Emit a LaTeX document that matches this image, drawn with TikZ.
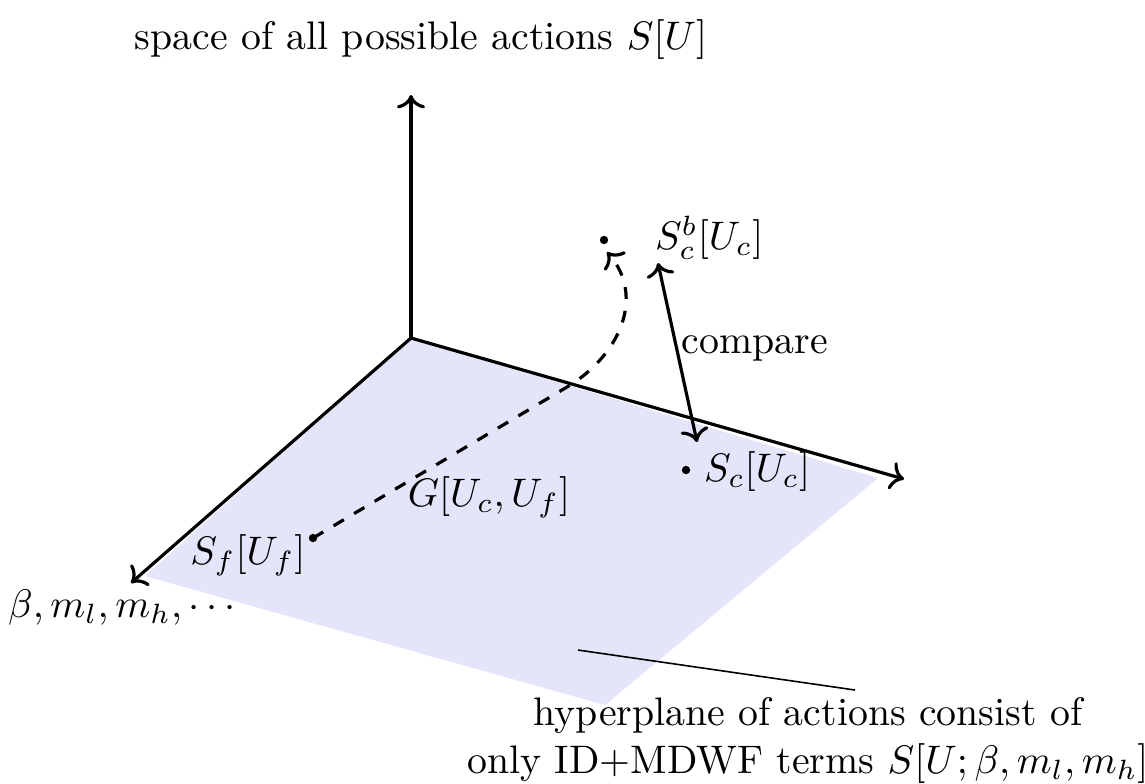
\documentclass[tikz,border=0pt]{standalone}
\usepackage{amsmath}
\usepackage{tikz}
\usetikzlibrary{arrows.meta}
\definecolor{plane-blue}{RGB}{228,228,250}

\begin{document}
\begin{tikzpicture}[x=0.2511pt, y=-0.2511pt,
    axis/.style={thick, ->},
    dot/.style={circle, fill, inner sep=0pt, minimum size=2.1pt}]
    \useasboundingbox (0,0) rectangle (1145,783);
    % hyperplane
    \fill[plane-blue] (411,338) -- (878,478) -- (605,705) -- (145,576) -- cycle;
    % axes
    \coordinate (O) at (411,338);
    \coordinate (up) at (411,95);
    \coordinate (right) at (904,479);
    \coordinate (left) at (131,583);
    \draw[axis] (O) -- (up);
    \draw[axis] (O) -- (right);
    \draw[axis] (O) -- (left);
    \node (space) at (421,40) {space of all possible actions $S[U]$};
    \node (params) at (125,608) {$\beta, m_l, m_h, \cdots$};
    % actions
    \node[dot] (sb) at (604,240) {};
    \node[dot] (sc) at (686,470) {};
    \node[dot] (sf) at (313,538) {};
    \node[anchor=west] (sb-lab) at (641,238) {$S_c^b[U_c]$};
    \node[anchor=west] (sc-lab) at (690,472) {$S_c[U_c]$};
    \node (sf-lab) at (248,555) {$S_f[U_f]$};
    % flow
    \coordinate (kink) at (567,387);
    \coordinate (sb-end) at (607,252);
    \draw[thick, dashed, ->] (sf.center) -- (kink) .. controls (619,356) and (646,297) .. (sb-end);
    \node (g-lab) at (489,497) {$G[U_c,U_f]$};
    % compare
    \coordinate (cmp-top) at (658,263);
    \coordinate (cmp-bot) at (697,442);
    \draw[thick, <->] (cmp-top) -- (cmp-bot);
    \node (cmp-lab) at (755,348) {compare};
    % hyperplane label
    \coordinate (hp) at (578,650);
    \coordinate (hp-end) at (855,690);
    \draw (hp) -- (hp-end);
    \node[anchor=north, align=center, inner sep=0pt] (hp-lab) at (808,697)
        {hyperplane of actions consist of\\only ID+MDWF terms $S[U;\beta,m_l,m_h]$};
\end{tikzpicture}
\end{document}
